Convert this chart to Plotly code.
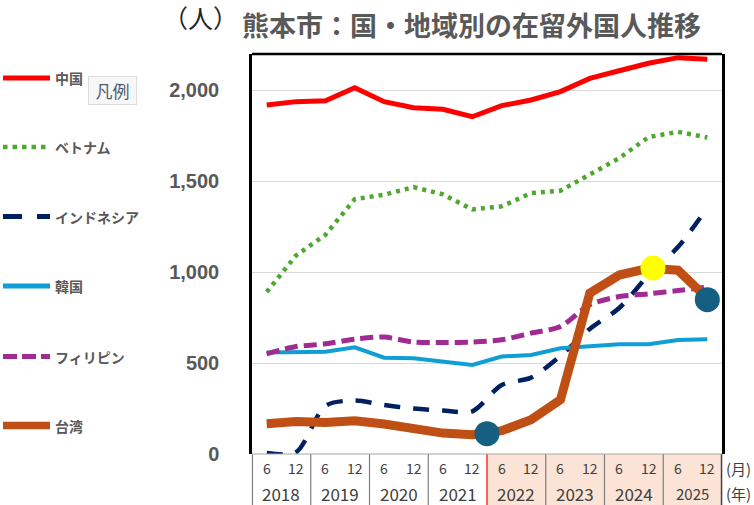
import plotly.graph_objects as go

# ---------------- data ----------------
months = ["6", "12"] * 8
years = ["2018", "2019", "2020", "2021", "2022", "2023", "2024", "2025"]
x_idx = list(range(16))

series_names = ["中国", "ベトナム", "インドネシア", "韓国", "フィリピン", "台湾"]
china = [1920, 1938, 1943, 2015, 1938, 1905, 1896, 1855, 1916, 1947, 1993, 2066, 2108, 2149, 2180, 2171]
vietnam = [891, 1092, 1206, 1402, 1426, 1468, 1428, 1345, 1362, 1435, 1448, 1536, 1627, 1743, 1772, 1741]
indonesia = [5, 10, 265, 294, 269, 250, 239, 235, 380, 420, 540, 688, 803, 984, 1138, 1355]
korea = [558, 558, 563, 587, 530, 527, 508, 490, 536, 545, 582, 591, 604, 604, 627, 631]
philippines = [551, 591, 606, 632, 643, 616, 613, 616, 628, 665, 701, 821, 866, 881, 899, 918]
taiwan = [166, 179, 173, 183, 165, 137, 115, 106, 128, 188, 298, 885, 984, 1021, 1011, 856]

# highlight circles
hl_x = [7.5, 13.15, 15.0]
hl_y = [112, 1023, 849]

y_ticks = [0, 500, 1000, 1500, 2000]

# ---------------- style ----------------
W, H = 754, 505
ML, MR, MT, MB = 252, 32, 54, 51
PW, PH = W - ML - MR, H - MT - MB


def px2x(px):
    return (px - ML) / PW


def py2y(py):
    return (H - MB - py) / PH


styles = [
    dict(color="#FF0000", width=5, dash="solid", shape="linear"),
    dict(color="#4EA72E", width=4.5, dash="4px,5px", shape="linear"),
    dict(color="#002060", width=4.5, dash="16px,13px", shape="spline"),
    dict(color="#0F9ED5", width=4, dash="solid", shape="linear"),
    dict(color="#A02B93", width=5, dash="13px,6px", shape="spline"),
    dict(color="#C04F15", width=9, dash="solid", shape="linear"),
]
legend_dash = ["solid", "4.5px,5px", "19px,15px", "solid", "14px,5px", "solid"]
legend_width = [5, 4.5, 5, 5, 5, 7.5]
legend_py = [78, 147, 216.5, 286, 356.5, 425.5]
hl_colors = ["#156082", "#FFFF00", "#156082"]

all_series = [china, vietnam, indonesia, korea, philippines, taiwan]

fig = go.Figure()
for name, vals, st in zip(series_names, all_series, styles):
    fig.add_trace(go.Scatter(
        x=x_idx, y=vals, name=name, mode="lines",
        line=dict(color=st["color"], width=st["width"], dash=st["dash"],
                  shape=st["shape"], smoothing=0.8),
        showlegend=False, hoverinfo="skip",
    ))

fig.add_trace(go.Scatter(
    x=hl_x, y=hl_y, mode="markers", showlegend=False, hoverinfo="skip",
    marker=dict(size=25, color=hl_colors, line=dict(width=0)),
    cliponaxis=False,
))

shapes = []
annotations = []

# table area below plot
tb_bottom = py2y(H + 2)
shapes.append(dict(type="rect", xref="x", yref="paper", x0=7.5, x1=15.5,
                   y0=tb_bottom, y1=0, fillcolor="#FBE3D6", line=dict(width=0),
                   layer="below"))
for k in range(1, 8):
    xb = 2 * k - 0.5
    col = "#FF0000" if k == 4 else "#7F7F7F"
    shapes.append(dict(type="line", xref="x", yref="paper", x0=xb, x1=xb,
                       y0=0, y1=tb_bottom, line=dict(color=col, width=1.2)))
shapes.append(dict(type="line", xref="paper", yref="paper", x0=0.001, x1=0.001,
                   y0=0, y1=tb_bottom, line=dict(color="#7F7F7F", width=1.2)))
shapes.append(dict(type="line", xref="paper", yref="paper", x0=0.999, x1=0.999,
                   y0=0, y1=tb_bottom, line=dict(color="#404040", width=1.5)))

# plot frame
shapes.append(dict(type="line", xref="paper", yref="paper", x0=0, x1=1, y0=1, y1=1,
                   line=dict(color="#000000", width=2.5)))
shapes.append(dict(type="line", xref="paper", yref="paper", x0=0, x1=1, y0=0, y1=0,
                   line=dict(color="#A6A6A6", width=1.2)))

# month / year labels
for i, m in enumerate(months):
    annotations.append(dict(x=x_idx[i], y=py2y(468.5), xref="x", yref="paper",
                            text=m, showarrow=False, xanchor="center", yanchor="middle",
                            font=dict(size=14, color="#404040", family="Noto Sans CJK JP")))
for k, yr in enumerate(years):
    annotations.append(dict(x=2 * k + 0.5, y=py2y(493.5), xref="x", yref="paper",
                            text=yr, showarrow=False, xanchor="center", yanchor="middle",
                            font=dict(size=15 if yr == "2025" else 17, color="#404040",
                                      family="Noto Sans CJK JP")))
annotations.append(dict(x=px2x(738), y=py2y(468.5), xref="paper", yref="paper",
                        text="(月)", showarrow=False, xanchor="center", yanchor="middle",
                        font=dict(size=15, color="#404040", family="Noto Sans CJK JP")))
annotations.append(dict(x=px2x(738), y=py2y(493.5), xref="paper", yref="paper",
                        text="(年)", showarrow=False, xanchor="center", yanchor="middle",
                        font=dict(size=15, color="#404040", family="Noto Sans CJK JP")))

# title and unit
annotations.append(dict(x=px2x(471.5), y=py2y(24), xref="paper", yref="paper",
                        text="熊本市：国・地域別の在留外国人推移", showarrow=False,
                        xanchor="center", yanchor="middle",
                        font=dict(size=27, color="#595959", family="Noto Sans CJK JP",
                                  weight=700)))
annotations.append(dict(x=px2x(200), y=py2y(17), xref="paper", yref="paper",
                        text="（人）", showarrow=False, xanchor="center", yanchor="middle",
                        font=dict(size=25, color="#262626", family="Noto Sans CJK JP")))

# manual legend on the left
for name, st, dsh, lw, ly in zip(series_names, styles, legend_dash, legend_width, legend_py):
    shapes.append(dict(type="line", xref="paper", yref="paper",
                       x0=px2x(3), x1=px2x(50), y0=py2y(ly), y1=py2y(ly),
                       line=dict(color=st["color"], width=lw, dash=dsh)))
    annotations.append(dict(x=px2x(53), y=py2y(ly), xref="paper", yref="paper",
                            text=name, showarrow=False, xanchor="left", yanchor="middle",
                            font=dict(size=14, color="#595959", family="Noto Sans CJK JP",
                                      weight=700)))
annotations.append(dict(x=px2x(112.5), y=py2y(90.5), xref="paper", yref="paper",
                        text="凡例", showarrow=False, xanchor="center", yanchor="middle",
                        width=43, height=23, borderpad=2, borderwidth=1,
                        bordercolor="#DCDCDC", bgcolor="#F7F7F7",
                        font=dict(size=17, color="#4D5B70", family="Noto Sans CJK JP")))

fig.update_layout(
    width=W, height=H,
    margin=dict(l=ML, r=MR, t=MT, b=MB, pad=0),
    paper_bgcolor="white", plot_bgcolor="white",
    font=dict(family="Noto Sans CJK JP"),
    shapes=shapes, annotations=annotations,
    xaxis=dict(range=[-0.5, 15.5], showticklabels=False, showgrid=False,
               zeroline=False, showline=False, ticks=""),
    yaxis=dict(range=[0, 2200], tickvals=y_ticks,
               ticktext=[f"{v:,}" for v in y_ticks],
               showgrid=True, gridcolor="#D9D9D9", gridwidth=1, zeroline=False,
               showline=True, mirror=True, linecolor="#000000", linewidth=2.5,
               ticks="", ticklabelstandoff=26,
               tickfont=dict(size=20, color="#595959", family="Liberation Sans",
                             weight=700)),
)

fig.write_html("out.html")
